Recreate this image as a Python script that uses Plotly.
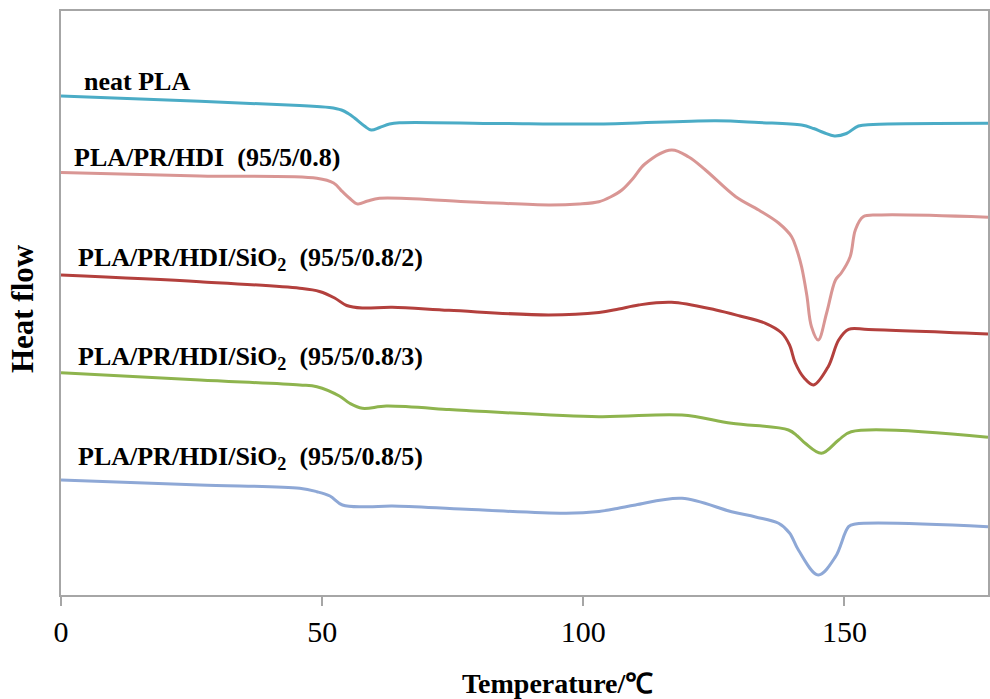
import plotly.graph_objects as go

# DSC heating curves, heat flow in arbitrary units (curves offset for clarity)
temp_neat = [0, 26.6, 45.7, 49.0, 51.4, 53.7, 55.0, 56.2, 58.1, 59.4, 61.0, 62.9, 64.8, 83.9, 103,
             125.4, 133.6, 141.8, 144.1, 146, 148.1, 150.4, 152.7, 155.5, 177.5]
hf_neat = [49.9, 49.37, 48.95, 48.85, 48.75, 48.5, 48.15, 47.7, 46.9, 46.5, 46.75, 47.1, 47.23,
           47.15, 47.1, 47.43, 47.25, 47.0, 46.65, 46.25, 45.9, 46.15, 46.9, 47.05, 47.17]

temp_pr = [0, 26.6, 49, 52.2, 53.9, 55.2, 56.8, 58.7, 61.0, 77.6, 93.4, 99.2, 103, 105.2, 107.4,
           109.6, 111.8, 116.9, 120.2, 123.4, 129.2, 133.6, 137.4, 139.9, 140.9, 141.8, 142.8,
           143.7, 145.0, 146.6, 148.3, 149.4, 151.1, 152.1, 153.6, 157.1, 177.5]
hf_pr = [42.25, 41.9, 41.67, 41.2, 40.33, 39.7, 39.1, 39.4, 39.67, 39.33, 39.0, 39.1, 39.33, 39.8,
         40.5, 41.7, 43.1, 44.5, 43.8, 42.5, 39.83, 38.5, 37.2, 35.83, 34.5, 32.83, 30.0, 26.83,
         25.5, 28.2, 31.5, 32.2, 33.83, 36.5, 37.83, 38.0, 37.77]

temp_si2 = [0, 26.6, 45.7, 49.5, 52.4, 54.7, 57.7, 63.4, 74.3, 93.4, 103, 106.8, 110.6, 116.9,
            125.4, 130, 134.9, 138, 139.5, 140.6, 142.3, 144.1, 146.9, 148.9, 150.8, 154.6, 177.5]
hf_si2 = [32.0, 31.33, 30.67, 30.35, 29.7, 28.95, 28.7, 28.77, 28.47, 28.0, 28.25, 28.6, 29.0,
          29.27, 28.5, 27.9, 27.17, 26.2, 25.0, 23.2, 21.7, 21.0, 22.83, 25.5, 26.57, 26.55, 26.1]

temp_si3 = [0, 26.6, 45.7, 49.0, 53.3, 55.2, 57.7, 62.3, 74.3, 77.6, 103, 118.9, 128.4, 139.3,
            141.0, 142.5, 145.6, 148.9, 151.3, 177.5]
hf_si3 = [22.23, 21.5, 21.0, 20.83, 19.9, 19.2, 18.67, 18.9, 18.55, 18.45, 17.83, 18.0, 17.17,
          16.5, 15.9, 15.17, 14.17, 15.5, 16.33, 15.77]

temp_si5 = [0, 26.6, 45.7, 49.0, 51.5, 53.9, 58.5, 63.4, 77.6, 96.7, 103, 106.5, 110, 118.9,
            128.4, 133.0, 137.4, 139.5, 141.2, 145, 148.3, 150.8, 152.1, 177.5]
hf_si5 = [11.5, 11.0, 10.67, 10.33, 9.9, 9.0, 8.83, 8.9, 8.57, 8.17, 8.35, 8.65, 9.0, 9.67,
          8.33, 7.8, 7.17, 6.2, 4.5, 2.0, 3.83, 6.83, 7.1, 6.83]

series = [
    ("neat PLA", temp_neat, hf_neat, "#4BACC6"),
    ("PLA/PR/HDI  (95/5/0.8)", temp_pr, hf_pr, "#D99694"),
    ("PLA/PR/HDI/SiO<sub>2</sub>  (95/5/0.8/2)", temp_si2, hf_si2, "#B3403D"),
    ("PLA/PR/HDI/SiO<sub>2</sub>  (95/5/0.8/3)", temp_si3, hf_si3, "#8EB44E"),
    ("PLA/PR/HDI/SiO<sub>2</sub>  (95/5/0.8/5)", temp_si5, hf_si5, "#8EA8D6"),
]

# caption anchor positions (temperature, heat flow)
label_x = [4.1, 2.2, 2.8, 2.8, 2.8]
label_y = [51.4, 43.8, 33.6, 23.7, 13.7]

fig = go.Figure()
for name, xs, ys, color in series:
    fig.add_trace(go.Scatter(
        x=xs, y=ys, mode="lines", name=name,
        line=dict(color=color, width=3, shape="spline", smoothing=1.0),
        showlegend=False,
    ))

serif = "Liberation Serif, Times New Roman, serif"
for (name, _, _, _), lx, ly in zip(series, label_x, label_y):
    fig.add_annotation(
        x=lx, y=ly, xref="x", yref="y", text="<b>" + name.replace("  ", "&nbsp; ") + "</b>",
        showarrow=False, xanchor="left", yanchor="middle",
        font=dict(family=serif, size=26, color="black"),
    )

W, H = 990, 699
ML, MR, MT, MB = 61, 0, 11, 104
pw, ph = W - ML - MR, H - MT - MB


def px_to_paper(px, py):
    return (px - ML) / pw, (H - MB - py) / ph


tx, ty = px_to_paper(559, 683)
fig.add_annotation(
    x=tx, y=ty, xref="paper", yref="paper", text="<b>Temperature/℃</b>",
    showarrow=False, xanchor="center", yanchor="middle",
    font=dict(family=serif, size=28, color="black"),
)
hx, hy = px_to_paper(23, 309)
fig.add_annotation(
    x=hx, y=hy, xref="paper", yref="paper", text="<b>Heat flow</b>",
    showarrow=False, xanchor="center", yanchor="middle", textangle=-90,
    font=dict(family=serif, size=31, color="black"),
)

fig.update_layout(
    width=W, height=H,
    margin=dict(l=ML, r=MR, t=MT, b=MB),
    paper_bgcolor="white", plot_bgcolor="white",
    xaxis=dict(
        range=[0, 177.5], tickvals=[0, 50, 100, 150], ticks="outside", ticklen=9,
        tickcolor="#A6A6A6", tickwidth=1.5, showline=True, linecolor="#A6A6A6", linewidth=1.5,
        mirror=True, showgrid=False, zeroline=False,
        tickfont=dict(family=serif, size=30, color="black"),
    ),
    yaxis=dict(
        range=[0, 58.4], showticklabels=False, ticks="", showline=True,
        linecolor="#A6A6A6", linewidth=1.5, mirror=True, showgrid=False, zeroline=False,
    ),
)

fig.write_html("out.html")
